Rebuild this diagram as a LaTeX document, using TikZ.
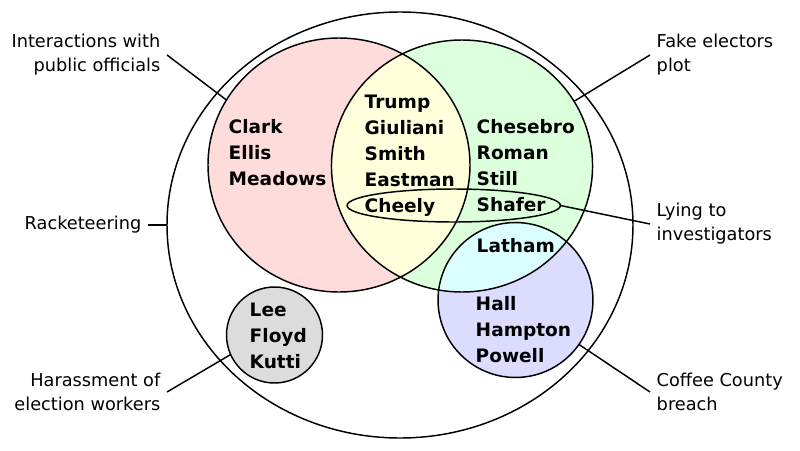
\documentclass[tikz,border=0pt]{standalone}
\usepackage{fontspec}
\setmainfont{DejaVu Sans}
\usetikzlibrary{shapes.geometric}
\definecolor{redset}{HTML}{FFDCDC}
\definecolor{greenset}{HTML}{DCFFDC}
\definecolor{yellowset}{HTML}{FFFFDC}
\definecolor{blueset}{HTML}{DCDCFF}
\definecolor{cyanset}{HTML}{DCFFFF}
\definecolor{grayset}{HTML}{DCDCDC}
\tikzset{
    venn/.style={line width=1.1pt},
    set/.style={ellipse, draw, inner sep=0pt, outer sep=0pt},
    names/.style={font=\bfseries\fontsize{13.9}{19.5}\selectfont, align=left,
                     anchor=north west, inner sep=0pt},
    tag/.style={font=\fontsize{13.3}{18}\selectfont, inner sep=4.5pt},
    }
\begin{document}
\begin{tikzpicture}[x=0.75pt,y=-0.75pt,venn]
    \useasboundingbox (0,0) rectangle (800,450);
    % fills
    \fill[redset] (339,165) ellipse [x radius=98.25pt, y radius=95.25pt];
    \fill[greenset] (462,166) ellipse [x radius=97.9pt, y radius=94.5pt];
    \begin{scope}
        \clip (339,165) ellipse [x radius=98.25pt, y radius=95.25pt];
        \fill[yellowset] (462,166) ellipse [x radius=97.9pt, y radius=94.5pt];
    \end{scope}
    \fill[blueset] (515.5,300) circle [radius=58.1pt];
    \begin{scope}
        \clip (462,166) ellipse [x radius=97.9pt, y radius=94.5pt];
        \fill[cyanset] (515.5,300) circle [radius=58.1pt];
    \end{scope}
    \fill[grayset] (274.5,335) circle [radius=36pt];

    % sets
    \node[set, minimum width=349.5pt, minimum height=319.5pt] (rico) at (400,225) {};
    \node[set, minimum width=196.5pt, minimum height=190.5pt] (officials) at (339,165) {};
    \node[set, minimum width=195.8pt, minimum height=189pt] (electors) at (462,166) {};
    \node[set, minimum width=160pt, minimum height=24.75pt] (lying) at (453.75,205.5) {};
    \node[set, minimum size=116.2pt] (coffee) at (515.5,300) {};
    \node[set, minimum size=72pt] (workers) at (274.5,335) {};

    % names
    \node[names] (clark) at (228,119) {Clark\\Ellis\\Meadows};
    \node[names] (trump) at (364,94.5) {Trump\\Giuliani\\Smith\\Eastman\\Cheely};
    \node[names] (chesebro) at (476,119) {Chesebro\\Roman\\Still\\Shafer};
    \node[names] (latham) at (476,238) {Latham};
    \node[names] (hall) at (475,296) {Hall\\Hampton\\Powell};
    \node[names] (lee) at (249,302.5) {Lee\\Floyd\\Kutti};

    % labels
    \node[tag, anchor=east, align=right] (officialstag) at (167,55) {Interactions with\\public officials};
    \node[tag, anchor=east] (ricotag) at (148,225) {Racketeering};
    \node[tag, anchor=east, align=right] (workerstag) at (167,392) {Harassment of\\election workers};
    \node[tag, anchor=west, align=left] (electorstag) at (650,55) {Fake electors\\plot};
    \node[tag, anchor=west, align=left] (lyingtag) at (650,224) {Lying to\\investigators};
    \node[tag, anchor=west, align=left] (coffeetag) at (650,392) {Coffee County\\breach};

    \draw (officialstag.east) -- (officials.150);
    \draw (ricotag.east) -- (rico.west);
    \draw (workerstag.east) -- (workers.204);
    \draw (electorstag.west) -- (electors.30);
    \draw (lyingtag.west) -- (lying.east);
    \draw (coffeetag.west) -- (coffee.325);
\end{tikzpicture}
\end{document}
